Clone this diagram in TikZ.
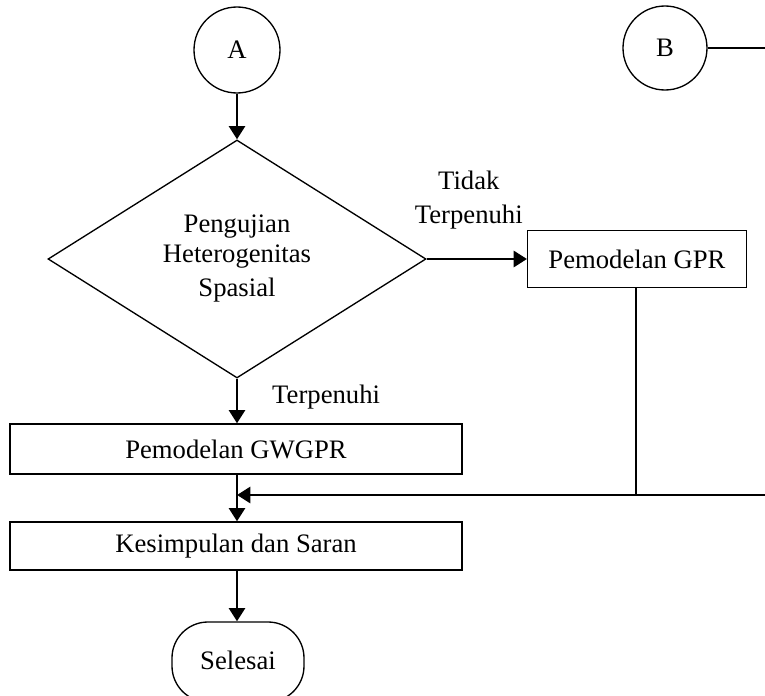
\documentclass[tikz,border=0pt]{standalone}
\usepackage{fontspec}
\setmainfont{Liberation Serif}
\usetikzlibrary{arrows.meta,shapes.geometric}

\begin{document}
\begin{tikzpicture}[x=0.75pt,y=-0.75pt,
    font=\fontsize{20}{25.5}\selectfont,
    garis/.style={line width=1pt},
    panah/.style={-{Triangle[length=10pt,width=12pt]}, line width=2.2pt},
    kotak/.style={draw, garis, inner sep=0pt},
    sambung/.style={draw, garis, circle, inner sep=0pt}]
    \useasboundingbox (0,0) rectangle (765,696);
    % penghubung
    \node[sambung, minimum size=64.5pt] (A) at (237,50) {A};
    \node[sambung, minimum size=63pt] (B) at (665,48) {B};
    \coordinate (ujungB) at (765,48);
    \draw[garis] (B.east) -- (ujungB);
    % uji
    \node[kotak, diamond, minimum width=283.5pt, minimum height=178.5pt,
	align=center] (uji) at (237,259)
	{\raisebox{-3pt}{Pengujian}\\Heterogenitas\\Spasial};
    \node[kotak, minimum width=164pt, minimum height=42.5pt] (gpr)
	at (637,259) {Pemodelan GPR};
    \node[kotak, minimum width=339pt, minimum height=37.5pt] (gwgpr)
	at (236,449) {Pemodelan GWGPR};
    \node[kotak, minimum width=339pt, minimum height=36pt] (simpul)
	at (236,546) {Kesimpulan dan Saran};
    \node[kotak, rounded corners=27pt, minimum width=99pt,
	minimum height=60pt] (selesai) at (238,662) {\raisebox{2pt}{Selesai}};
    % alur
    \draw[panah] (A) -- (uji.north);
    \draw[panah] (uji.east) -- (gpr.west)
	node [pos=0.42, above=18pt, align=center] {Tidak\\Terpenuhi};
    \draw[panah] (uji.south) -- (uji.south |- gwgpr.north)
	node [midway, right=22pt, yshift=3pt] {Terpenuhi};
    \coordinate (temu) at (237,495);
    \coordinate (kanan) at (765,495);
    \coordinate (turun) at (636,495);
    \draw[garis] (gpr.south -| turun) -- (turun);
    \draw[panah] (kanan) -- (temu);
    \draw[panah] (temu |- gwgpr.south) -- (temu |- simpul.north);
    \draw[panah] (temu |- simpul.south) -- (temu |- selesai.north);
\end{tikzpicture}
\end{document}
